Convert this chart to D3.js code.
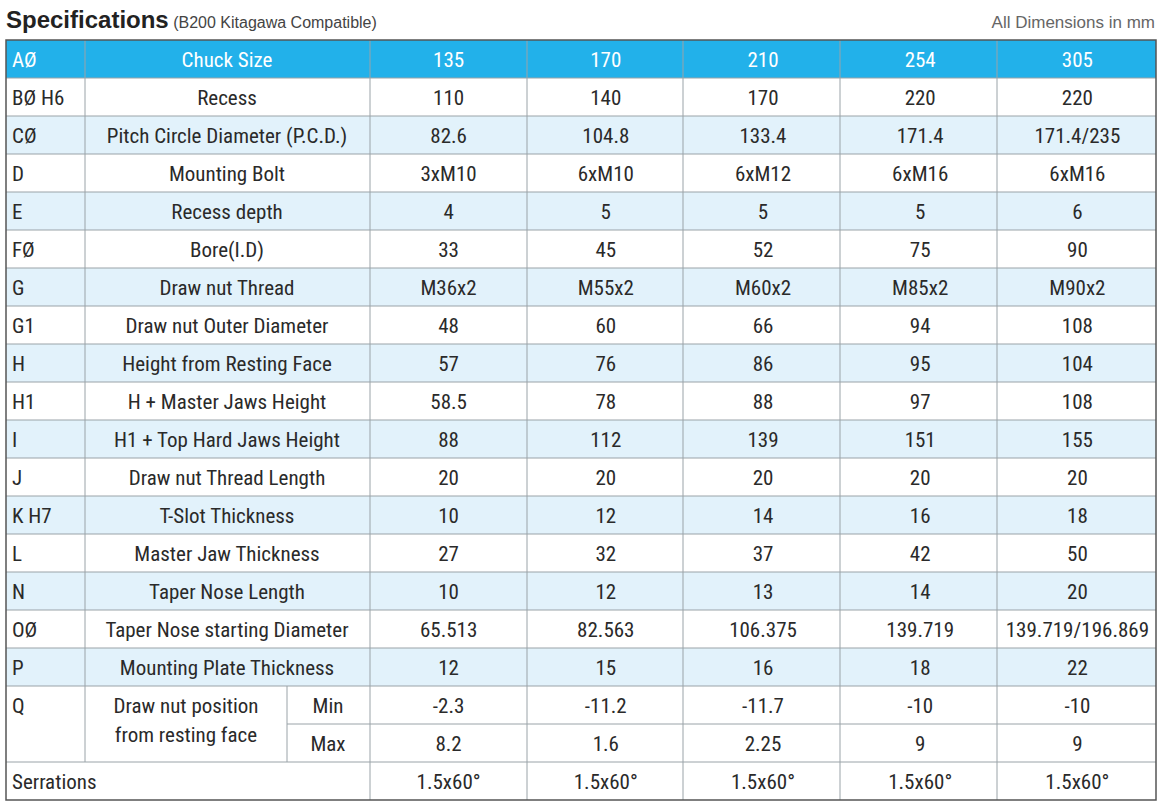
<!DOCTYPE html>
<html><head><meta charset="utf-8">
<script src="https://cdn.jsdelivr.net/npm/d3@7"></script>
<style>body{margin:0;background:#fff}svg{display:block}</style>
</head><body><svg id="c" width="1162" height="806"></svg>
<script>
const sizes = ["135","170","210","254","305"];
const codes = ["BØ H6","CØ","D","E","FØ","G","G1","H","H1","I","J","K H7","L","N","OØ","P"];
const labels = ["Recess","Pitch Circle Diameter (P.C.D.)","Mounting Bolt","Recess depth","Bore(I.D)","Draw nut Thread","Draw nut Outer Diameter","Height from Resting Face","H + Master Jaws Height","H1 + Top Hard Jaws Height","Draw nut Thread Length","T-Slot Thickness","Master Jaw Thickness","Taper Nose Length","Taper Nose starting Diameter","Mounting Plate Thickness"];
const values = [
 ["110","140","170","220","220"],
 ["82.6","104.8","133.4","171.4","171.4/235"],
 ["3xM10","6xM10","6xM12","6xM16","6xM16"],
 ["4","5","5","5","6"],
 ["33","45","52","75","90"],
 ["M36x2","M55x2","M60x2","M85x2","M90x2"],
 ["48","60","66","94","108"],
 ["57","76","86","95","104"],
 ["58.5","78","88","97","108"],
 ["88","112","139","151","155"],
 ["20","20","20","20","20"],
 ["10","12","14","16","18"],
 ["27","32","37","42","50"],
 ["10","12","13","14","20"],
 ["65.513","82.563","106.375","139.719","139.719/196.869"],
 ["12","15","16","18","22"]];
const qMin = ["-2.3","-11.2","-11.7","-10","-10"];
const qMax = ["8.2","1.6","2.25","9","9"];
const serr = ["1.5x60°","1.5x60°","1.5x60°","1.5x60°","1.5x60°"];

const svg = d3.select("#c");
const F = "'Liberation Sans Narrow','Roboto Condensed',Roboto,sans-serif";
const nRows = 20;
const y = d3.scaleBand().domain(d3.range(nRows)).range([40,800]);
const colEdges = [6,85,370,527,683,840,997,1156];
const xs = d3.scaleBand().domain(d3.range(5)).range([370,1156]);
const rh = y.bandwidth();

svg.append("text").attr("x",6).attr("y",28).attr("font-family","Arial,Liberation Sans,sans-serif")
 .attr("font-size",24).attr("font-weight","bold").attr("fill","#222").text("Specifications")
 .append("tspan").attr("font-weight","normal").attr("font-size",16).attr("fill","#444").text(" (B200 Kitagawa Compatible)");
svg.append("text").attr("x",1155).attr("y",28).attr("text-anchor","end").attr("font-family","Arial,sans-serif")
 .attr("font-size",17).attr("fill","#666").text("All Dimensions in mm");

for(let r=0;r<nRows;r++){
  let fill = r===0?"#22b1ea":((r>=17&&r<=18)?"#fff":(r%2===0?"#e2f2fb":"#fff"));
  svg.append("rect").attr("x",6).attr("y",y(r)).attr("width",1150).attr("height",rh).attr("fill",fill);
}
for(let r=1;r<nRows;r++){
  const g = svg.append("line").attr("y1",y(r)).attr("y2",y(r)).attr("stroke","#9aa3a8").attr("stroke-width",1);
  if(r===18) g.attr("x1",287).attr("x2",1156); else g.attr("x1",6).attr("x2",1156);
}
colEdges.slice(1,-1).forEach(x=>{
  svg.append("line").attr("x1",x).attr("x2",x).attr("y1",40).attr("y2",x===85?y(19):800).attr("stroke","#9aa3a8");
});
svg.append("line").attr("x1",287).attr("x2",287).attr("y1",y(17)).attr("y2",y(19)).attr("stroke","#9aa3a8");
svg.append("rect").attr("x",6).attr("y",40).attr("width",1150).attr("height",760).attr("fill","none").attr("stroke","#555").attr("stroke-width",1.5);

function txt(x,r,t,anchor,col,dy){
  svg.append("text").attr("x",x).attr("y",y(r)+rh/2+(dy||0)).attr("dy","0.36em").attr("text-anchor",anchor)
   .attr("font-family",F).attr("font-size",21).attr("fill",col||"#2a2a2a").text(t);
}
txt(12,0,"AØ","start","#fff"); txt(227,0,"Chuck Size","middle","#fff");
sizes.forEach((s,i)=>txt(xs(i)+xs.bandwidth()/2,0,s,"middle","#fff"));
codes.forEach((c,k)=>{
  const r=k+1;
  txt(12,r,c,"start"); txt(227,r,labels[k],"middle");
  values[k].forEach((v,i)=>txt(xs(i)+xs.bandwidth()/2,r,v,"middle"));
});
txt(12,17,"Q","start");
txt(186,17,"Draw nut position","middle",null,0);
txt(186,18,"from resting face","middle",null,-9);
txt(328,17,"Min","middle"); txt(328,18,"Max","middle");
qMin.forEach((v,i)=>txt(xs(i)+xs.bandwidth()/2,17,v,"middle"));
qMax.forEach((v,i)=>txt(xs(i)+xs.bandwidth()/2,18,v,"middle"));
txt(12,19,"Serrations","start");
serr.forEach((v,i)=>txt(xs(i)+xs.bandwidth()/2,19,v,"middle"));
</script></body></html>
